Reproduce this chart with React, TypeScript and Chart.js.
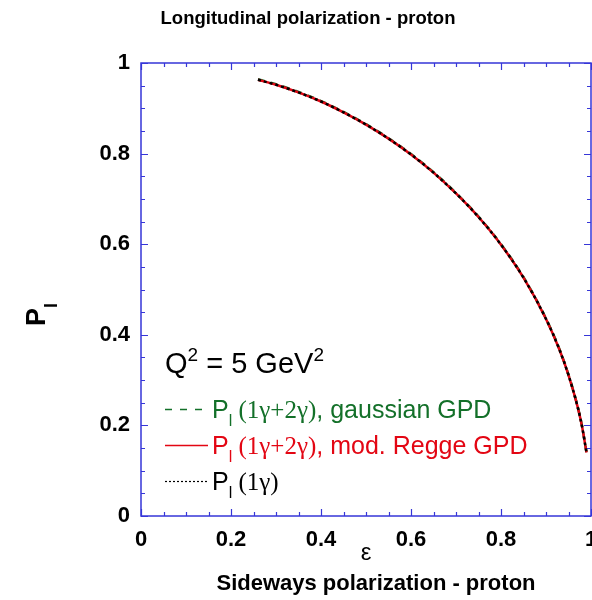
import { useEffect, useRef } from 'react';
import { Chart, registerables } from 'chart.js';
Chart.register(...registerables);

// ε values (x)
const epsilon = [0.26, 0.30, 0.35, 0.40, 0.45, 0.50, 0.55, 0.60, 0.65, 0.70, 0.75, 0.80, 0.85, 0.90, 0.93, 0.95, 0.97, 0.98, 0.99];
// P_l (1γ+2γ), gaussian GPD
const plGaussian = [0.964, 0.953, 0.936, 0.916, 0.892, 0.865, 0.834, 0.799, 0.759, 0.713, 0.661, 0.600, 0.527, 0.436, 0.368, 0.312, 0.243, 0.199, 0.141];
// P_l (1γ+2γ), mod. Regge GPD
const plRegge = [0.963, 0.952, 0.935, 0.915, 0.891, 0.864, 0.833, 0.798, 0.758, 0.712, 0.660, 0.599, 0.526, 0.435, 0.367, 0.311, 0.242, 0.198, 0.140];
// P_l (1γ)
const plBorn = [0.963, 0.952, 0.935, 0.915, 0.891, 0.864, 0.833, 0.798, 0.758, 0.712, 0.660, 0.599, 0.526, 0.435, 0.367, 0.311, 0.242, 0.198, 0.140];

const xTickValues = [0, 0.2, 0.4, 0.6, 0.8, 1];
const yTickValues = [0, 0.2, 0.4, 0.6, 0.8, 1];
const minorTickValues = [0, 0.05, 0.1, 0.15, 0.2, 0.25, 0.3, 0.35, 0.4, 0.45, 0.5, 0.55, 0.6, 0.65, 0.7, 0.75, 0.8, 0.85, 0.9, 0.95, 1];

const titleText = 'Longitudinal polarization - proton';
const bottomText = 'Sideways polarization - proton';
const xAxisTitle = 'ε';

const GREEN = '#137029';
const RED = '#e30613';
const BLUE = '#3636d8';
const SANS = '"Liberation Sans", Arial, sans-serif';
const SERIF = '"Liberation Serif", "Times New Roman", serif';

type Run = { text: string; font: string; color: string; dy?: number };

function drawRuns(ctx: CanvasRenderingContext2D, x: number, y: number, runs: Run[]) {
  let cx = x;
  for (const r of runs) {
    ctx.font = r.font;
    ctx.fillStyle = r.color;
    ctx.fillText(r.text, cx, y + (r.dy || 0));
    cx += ctx.measureText(r.text).width;
  }
  return cx;
}

const fmt = (v: number) => (v === 0 || v === 1 ? String(v) : v.toFixed(1));

const decoPlugin = {
  id: 'deco',
  afterDatasetsDraw(chart: any) {
    const { ctx, chartArea: a, scales } = chart;
    const xs = scales.x;
    const ys = scales.y;
    ctx.save();
    ctx.strokeStyle = BLUE;
    ctx.lineWidth = 1.5;
    ctx.strokeRect(a.left, a.top, a.right - a.left, a.bottom - a.top);
    ctx.lineWidth = 1.2;
    ctx.beginPath();
    for (const v of minorTickValues) {
      const major = xTickValues.some((t) => Math.abs(t - v) < 1e-6);
      const len = major ? 7 : 4;
      const px = Math.round(xs.getPixelForValue(v)) + 0.5;
      ctx.moveTo(px, a.bottom);
      ctx.lineTo(px, a.bottom - len);
      ctx.moveTo(px, a.top);
      ctx.lineTo(px, a.top + len);
      const majorY = yTickValues.some((t) => Math.abs(t - v) < 1e-6);
      const leny = majorY ? 7 : 4;
      const py = Math.round(ys.getPixelForValue(v)) + 0.5;
      ctx.moveTo(a.left, py);
      ctx.lineTo(a.left + leny, py);
      ctx.moveTo(a.right, py);
      ctx.lineTo(a.right - leny, py);
    }
    ctx.stroke();
    ctx.restore();
  },
  afterDraw(chart: any) {
    const { ctx } = chart;
    const ds = chart.data.datasets;
    ctx.save();
    ctx.textBaseline = 'alphabetic';
    ctx.textAlign = 'center';
    ctx.fillStyle = '#000';
    ctx.font = `bold 18.5px ${SANS}`;
    ctx.fillText(titleText, 308, 24);
    ctx.font = `bold 22px ${SANS}`;
    ctx.fillText(bottomText, 376, 590);
    ctx.font = `24px ${SANS}`;
    ctx.fillText(xAxisTitle, 366, 560);

    // y axis title P_l (rotated)
    ctx.save();
    ctx.translate(45, 326);
    ctx.rotate(-Math.PI / 2);
    ctx.textAlign = 'left';
    drawRuns(ctx, 0, 0, [
      { text: 'P', font: `bold 27px ${SANS}`, color: '#000' },
      { text: 'l', font: `bold 18px ${SANS}`, color: '#000', dy: 12 },
    ]);
    ctx.restore();

    ctx.textAlign = 'left';
    // Q^2 label
    drawRuns(ctx, 165, 373, [
      { text: 'Q', font: `29px ${SANS}`, color: '#000' },
      { text: '2', font: `19px ${SANS}`, color: '#000', dy: -12 },
      { text: ' = 5 GeV', font: `29px ${SANS}`, color: '#000' },
      { text: '2', font: `19px ${SANS}`, color: '#000', dy: -12 },
    ]);

    const entries = [
      { y: 418, color: GREEN, tail: ', gaussian GPD', dsIndex: 2, serif: ' (1γ+2γ)' },
      { y: 454, color: RED, tail: ', mod. Regge GPD', dsIndex: 1, serif: ' (1γ+2γ)' },
      { y: 490, color: '#000', tail: '', dsIndex: 0, serif: ' (1γ)' },
    ];
    for (const e of entries) {
      const d = ds[e.dsIndex];
      ctx.save();
      ctx.strokeStyle = d.borderColor;
      ctx.lineWidth = e.dsIndex === 0 ? 1.2 : 1.3;
      ctx.setLineDash(e.dsIndex === 0 ? [2, 2] : e.dsIndex === 2 ? [7, 8] : []);
      ctx.beginPath();
      ctx.moveTo(165, e.y - 8.5);
      ctx.lineTo(208, e.y - 8.5);
      ctx.stroke();
      ctx.restore();
      const runs: Run[] = [
        { text: 'P', font: `25px ${SANS}`, color: e.color },
        { text: 'l', font: `16px ${SANS}`, color: e.color, dy: 8 },
        { text: e.serif, font: `25px ${SERIF}`, color: e.color },
      ];
      if (e.tail) runs.push({ text: e.tail, font: `25px ${SANS}`, color: e.color });
      drawRuns(ctx, 212, e.y, runs);
    }
    ctx.restore();
  },
};

export default function App() {
  const ref = useRef<HTMLCanvasElement | null>(null);
  useEffect(() => {
    document.body.style.margin = '0';
    const canvas = ref.current!;
    const pts = (ys: number[]) => epsilon.map((x, i) => ({ x, y: ys[i] }));
    const chart = new Chart(canvas, {
      type: 'line',
      data: {
        datasets: [
          {
            label: 'P_l (1γ)',
            data: pts(plBorn),
            borderColor: '#000',
            borderWidth: 2.5,
            borderDash: [3, 3],
            pointRadius: 0,
            cubicInterpolationMode: 'monotone',
            order: 0,
          },
          {
            label: 'P_l (1γ+2γ), mod. Regge GPD',
            data: pts(plRegge),
            borderColor: RED,
            borderWidth: 2.5,
            pointRadius: 0,
            cubicInterpolationMode: 'monotone',
            order: 1,
          },
          {
            label: 'P_l (1γ+2γ), gaussian GPD',
            data: pts(plGaussian),
            borderColor: GREEN,
            borderWidth: 2.5,
            borderDash: [7, 6],
            pointRadius: 0,
            cubicInterpolationMode: 'monotone',
            order: 2,
          },
        ],
      },
      options: {
        animation: false,
        responsive: false,
        devicePixelRatio: 1,
        layout: { padding: { left: 81, top: 63, right: 1, bottom: 44 } },
        plugins: { legend: { display: false }, tooltip: { enabled: false }, title: { display: false } },
        scales: {
          x: {
            type: 'linear',
            min: 0,
            max: 1,
            grid: { display: false },
            border: { display: false },
            afterBuildTicks: (s: any) => {
              s.ticks = xTickValues.map((v) => ({ value: v }));
            },
            afterFit: (s: any) => {
              s.height = 40;
              s.paddingLeft = 0;
              s.paddingRight = 0;
            },
            ticks: {
              padding: 3,
              maxRotation: 0,
              autoSkip: false,
              color: '#000',
              font: { family: SANS, size: 22, weight: 'bold' },
              callback: (v: any) => fmt(Number(v)),
            },
          },
          y: {
            type: 'linear',
            min: 0,
            max: 1,
            grid: { display: false },
            border: { display: false },
            afterBuildTicks: (s: any) => {
              s.ticks = yTickValues.map((v) => ({ value: v }));
            },
            afterFit: (s: any) => {
              s.width = 60;
              s.paddingTop = 0;
              s.paddingBottom = 0;
            },
            ticks: {
              padding: 3,
              autoSkip: false,
              color: '#000',
              font: { family: SANS, size: 22, weight: 'bold' },
              callback: (v: any) => fmt(Number(v)),
            },
          },
        },
      },
      plugins: [decoPlugin],
    } as any);
    return () => chart.destroy();
  }, []);
  return (
    <div style={{ width: 592, height: 600 }}>
      <canvas ref={ref} width={592} height={600} style={{ width: 592, height: 600, display: 'block' }} />
    </div>
  );
}
